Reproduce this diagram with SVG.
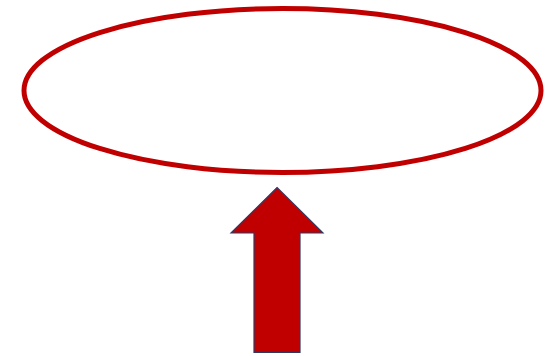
<svg xmlns="http://www.w3.org/2000/svg" width="546" height="356" viewBox="0 0 546 356">
<style>
.oval{fill:none;stroke:#C00000;stroke-width:5}
.arrow{fill:#C00000;stroke:#2F3A64;stroke-width:1.2;stroke-linejoin:miter}
</style>
<rect width="546" height="356" fill="#FFFFFF"/>
<g id="ellipse"><ellipse class="oval" cx="282.5" cy="90.5" rx="258.5" ry="82"/></g>
<g id="connectors">
<polygon class="arrow" points="277,187.5 323,233 300,233 300,352.5 254,352.5 254,233 231,233"/>
</g>
</svg>
